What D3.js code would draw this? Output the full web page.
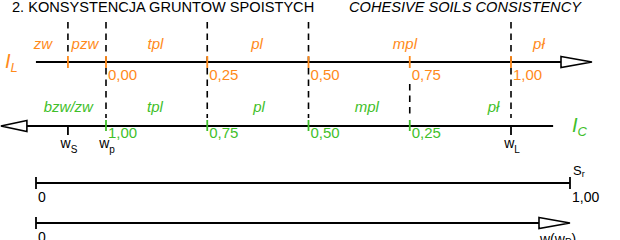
<!DOCTYPE html>
<html><head><meta charset="utf-8">
<script src="https://cdn.jsdelivr.net/npm/d3@7"></script>
<style>body{margin:0;background:#fff} svg{display:block} text{font-family:"Liberation Sans",Arial,sans-serif}</style>
</head><body><svg id="c" width="620" height="240"></svg>
<script>
// ---- data ----
const titlePL = "2. KONSYSTENCJA GRUNTOW SPOISTYCH";
const titleEN = "COHESIVE SOILS CONSISTENCY";

const ilExtent = [-0.173, 1.2];            // I_L axis: start, arrow tip
const ilTicks = [0, 0.25, 0.5, 0.75, 1.0];
const ilTickLabels = ["0,00", "0,25", "0,50", "0,75", "1,00"];
const wsValue = -0.094;                     // shrinkage limit on I_L scale
const ilBounds = [0, 0.25, 0.5, 1.0];       // dashed state boundaries
const ilStates = ["zw", "pzw", "tpl", "pl", "mpl", "pł"];
const ilStatePos = [-0.156, -0.052, 0.122, 0.373, 0.738, 1.069];

const icExtent = [1.262, -0.104];           // I_C axis: arrow tip (left), end (right)
const icTicks = [1.0, 0.75, 0.5, 0.25];
const icTickLabels = ["1,00", "0,75", "0,50", "0,25"];
const icBounds = [0.25];
const icStates = ["bzw/zw", "tpl", "pl", "mpl", "pł"];
const icStatePos = [1.093, 0.879, 0.622, 0.356, 0.043];

const wMarks = [{ sub: "S", il: -0.094 }, { sub: "p", il: 0 }, { sub: "L", il: 1.0 }];
const wTickMarks = ["S", "L"];

const srTicks = [0, 1];
const srTickLabels = ["0", "1,00"];
const wLineTicks = [0];
const wLineTickLabels = ["0"];

// ---- style ----
const ORANGE = "#ff8a1a", GREEN = "#3fbf2a";
const svg = d3.select("#c");
const x = d3.scaleLinear().domain([0, 1]).range([106, 511]);   // I_L
const xc = d3.scaleLinear().domain([1, 0]).range([106, 511]);  // I_C
const xs = d3.scaleLinear().domain([0, 1]).range([36, 570]);   // S_r, w
const yIL = 62, yIC = 126, ySr = 183, yW = 223;
const AL = 31, AH = 5.5;

// titles
svg.append("text").attr("x", 12).attr("y", 12).attr("font-size", 14.6).text(titlePL);
svg.append("text").attr("x", 349).attr("y", 12).attr("font-size", 14.6)
  .attr("font-style", "italic").text(titleEN);

// dashed boundaries
const dash = svg.append("g").attr("stroke", "#000").attr("stroke-width", 1.6)
  .attr("stroke-dasharray", "6.5,5");
dash.append("line").attr("x1", x(wsValue)).attr("x2", x(wsValue)).attr("y1", 22).attr("y2", yIL - 6);
dash.selectAll(".b").data(ilBounds).join("line")
  .attr("x1", d => x(d)).attr("x2", d => x(d)).attr("y1", 22).attr("y2", 118);
dash.selectAll(".c").data(icBounds).join("line")
  .attr("x1", d => xc(d)).attr("x2", d => xc(d)).attr("y1", 84).attr("y2", 118);

// I_L axis line + arrow
const tipIL = x(ilExtent[1]);
svg.append("line").attr("x1", x(ilExtent[0])).attr("x2", tipIL - AL)
  .attr("y1", yIL).attr("y2", yIL).attr("stroke", "#000").attr("stroke-width", 2);
svg.append("path").attr("d", `M${tipIL - AL},${yIL - AH}L${tipIL},${yIL}L${tipIL - AL},${yIL + AH}Z`)
  .attr("fill", "#fff").attr("stroke", "#000").attr("stroke-width", 1.6);

svg.selectAll(".ilt").data([wsValue, ...ilTicks]).join("line")
  .attr("x1", d => x(d)).attr("x2", d => x(d)).attr("y1", yIL - 6).attr("y2", yIL + 6)
  .attr("stroke", ORANGE).attr("stroke-width", 1.8);
svg.selectAll(".ill").data(ilTicks).join("text")
  .attr("x", d => x(d) + 2).attr("y", yIL + 18).attr("font-size", 15).attr("fill", ORANGE)
  .text((d, i) => ilTickLabels[i]);
svg.selectAll(".ils").data(ilStates).join("text")
  .attr("x", (d, i) => x(ilStatePos[i])).attr("y", 49).attr("text-anchor", "middle")
  .attr("font-size", 15).attr("font-style", "italic").attr("fill", ORANGE).text(d => d);

// I_L label
const tIL = svg.append("text").attr("x", 5).attr("y", 68).attr("fill", ORANGE)
  .attr("font-style", "italic").attr("font-size", 20);
tIL.append("tspan").text("I");
tIL.append("tspan").attr("font-size", 13).attr("dy", 4).text("L");

// I_C axis line + arrow (pointing left)
const tipIC = xc(icExtent[0]);
svg.append("line").attr("x1", tipIC + AL - 4).attr("x2", xc(icExtent[1]))
  .attr("y1", yIC).attr("y2", yIC).attr("stroke", "#000").attr("stroke-width", 2);
svg.append("path").attr("d", `M${tipIC + AL - 4},${yIC - AH}L${tipIC + 1},${yIC}L${tipIC + AL - 4},${yIC + AH}Z`)
  .attr("fill", "#fff").attr("stroke", "#000").attr("stroke-width", 1.6);

svg.selectAll(".ict").data(icTicks).join("line")
  .attr("x1", d => xc(d)).attr("x2", d => xc(d)).attr("y1", yIC - 6).attr("y2", yIC + 5)
  .attr("stroke", GREEN).attr("stroke-width", 1.8);
svg.selectAll(".icl").data(icTicks).join("text")
  .attr("x", d => xc(d) + 2).attr("y", yIC + 12).attr("font-size", 15).attr("fill", GREEN)
  .text((d, i) => icTickLabels[i]);
svg.selectAll(".ics").data(icStates).join("text")
  .attr("x", (d, i) => xc(icStatePos[i])).attr("y", 112).attr("text-anchor", "middle")
  .attr("font-size", 15).attr("font-style", "italic").attr("fill", GREEN).text(d => d);

const tIC = svg.append("text").attr("x", 572).attr("y", 132).attr("fill", GREEN)
  .attr("font-style", "italic").attr("font-size", 20);
tIC.append("tspan").text("I");
tIC.append("tspan").attr("font-size", 13).attr("dy", 4).text("C");

// w markers
svg.selectAll(".wt").data(wMarks.filter(d => wTickMarks.includes(d.sub))).join("line")
  .attr("x1", d => x(d.il)).attr("x2", d => x(d.il)).attr("y1", yIC).attr("y2", yIC + 9)
  .attr("stroke", "#000").attr("stroke-width", 1.8);
const wl = svg.selectAll(".wl").data(wMarks).join("text")
  .attr("x", d => x(d.il) + 1).attr("y", 148).attr("text-anchor", "middle").attr("font-size", 14);
wl.append("tspan").text("w");
wl.append("tspan").attr("font-size", 10).attr("dy", 5).text(d => d.sub);

// S_r line
svg.append("line").attr("x1", xs(0)).attr("x2", xs(1)).attr("y1", ySr).attr("y2", ySr)
  .attr("stroke", "#000").attr("stroke-width", 1.8);
svg.selectAll(".srt").data(srTicks).join("line")
  .attr("x1", d => xs(d)).attr("x2", d => xs(d)).attr("y1", ySr - 6).attr("y2", ySr + 6)
  .attr("stroke", "#000").attr("stroke-width", 1.8);
svg.selectAll(".srl").data(srTicks).join("text")
  .attr("x", d => xs(d) + 2).attr("y", 202).attr("font-size", 14).text((d, i) => srTickLabels[i]);
const sr = svg.append("text").attr("x", xs(1) + 3).attr("y", 175).attr("font-size", 13);
sr.append("tspan").text("S");
sr.append("tspan").attr("font-size", 9).attr("dy", 2).text("r");

// w line
svg.append("line").attr("x1", xs(0)).attr("x2", xs(1) - AL).attr("y1", yW).attr("y2", yW)
  .attr("stroke", "#000").attr("stroke-width", 1.8);
svg.append("path").attr("d", `M${xs(1) - AL},${yW - AH}L${xs(1)},${yW}L${xs(1) - AL},${yW + AH}Z`)
  .attr("fill", "#fff").attr("stroke", "#000").attr("stroke-width", 1.6);
svg.selectAll(".wlt").data(wLineTicks).join("line")
  .attr("x1", d => xs(d)).attr("x2", d => xs(d)).attr("y1", yW - 6).attr("y2", yW + 6)
  .attr("stroke", "#000").attr("stroke-width", 1.8);
svg.selectAll(".wll").data(wLineTicks).join("text")
  .attr("x", d => xs(d) + 2).attr("y", 242).attr("font-size", 14).text((d, i) => wLineTickLabels[i]);
const wp = svg.append("text").attr("x", xs(1) - 30).attr("y", 244).attr("font-size", 14);
wp.append("tspan").text("w(w");
wp.append("tspan").attr("font-size", 10).attr("dy", 2).text("P");
wp.append("tspan").attr("dy", -2).text(")");
</script></body></html>
